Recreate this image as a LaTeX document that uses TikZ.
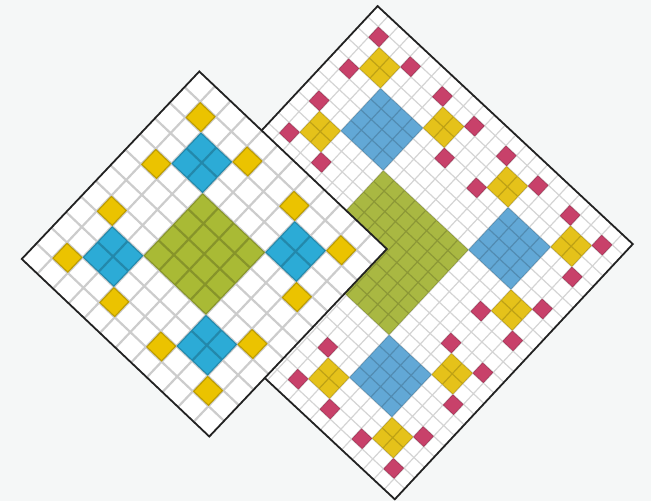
\documentclass[tikz,border=0pt]{standalone}
\definecolor{bg}{HTML}{F5F7F7}
\definecolor{sgreen}{HTML}{A9BA35}
\definecolor{sblue}{HTML}{2CABD6}
\definecolor{syellow}{HTML}{EBC300}
\definecolor{bgreen}{HTML}{A9B842}
\definecolor{bblue}{HTML}{62A8D6}
\definecolor{byellow}{HTML}{E5C21A}
\definecolor{bpink}{HTML}{C8416A}
\definecolor{edge}{HTML}{222222}
\tikzset{
  smallgrid/.style={line width=2.2pt, black, opacity=0.2},
  biggrid/.style={line width=1.2pt, black, opacity=0.17},
  frame/.style={line width=1.8pt, edge, line join=miter},
}
\begin{document}
\begin{tikzpicture}[x=1pt,y=1pt]
\fill[bg] (0,0) rectangle (651,501);
\useasboundingbox (0,0) rectangle (651,501);
% big square
\begin{scope}[shift={(386.2,248.3)}, rotate=47.0, x=14.54pt, y=14.54pt]
  \fill[white] (-12,-12) rectangle (12,12);
  \fill[bgreen] (-4,-4) rectangle (4,4);
  \foreach \sx/\sy in {1/1,1/-1,-1/1,-1/-1}{
    \begin{scope}[xscale=\sx, yscale=\sy]
      \fill[bblue] (4,4) rectangle (8,8);
      \fill[byellow] (8,8) rectangle (10,10) (8,2) rectangle (10,4) (2,8) rectangle (4,10);
      \fill[bpink] (10,10) rectangle (11,11) (10,7) rectangle (11,8) (7,10) rectangle (8,11)
                   (10,4) rectangle (11,5) (10,1) rectangle (11,2) (7,1) rectangle (8,2)
                   (4,10) rectangle (5,11) (1,10) rectangle (2,11) (1,7) rectangle (2,8);
    \end{scope}
  }
  \draw[biggrid] \foreach \i in {-11,...,11}{(\i,-12) -- (\i,12) (-12,\i) -- (12,\i)};
  \draw[frame] (-12,-12) rectangle (12,12);
\end{scope}
% small square
\begin{scope}[shift={(204.3,247)}, rotate=46.57, x=21.52pt, y=21.52pt]
  \fill[white] (-6,-6) rectangle (6,6);
  \fill[sgreen] (-2,-2) rectangle (2,2);
  \foreach \sx/\sy in {1/1,1/-1,-1/1,-1/-1}{
    \begin{scope}[xscale=\sx, yscale=\sy]
      \fill[sblue] (2,2) rectangle (4,4);
      \fill[syellow] (4,4) rectangle (5,5) (4,1) rectangle (5,2) (1,4) rectangle (2,5);
    \end{scope}
  }
  \draw[smallgrid] \foreach \i in {-5,...,5}{(\i,-6) -- (\i,6) (-6,\i) -- (6,\i)};
  \draw[frame] (-6,-6) rectangle (6,6);
\end{scope}
\end{tikzpicture}
\end{document}
